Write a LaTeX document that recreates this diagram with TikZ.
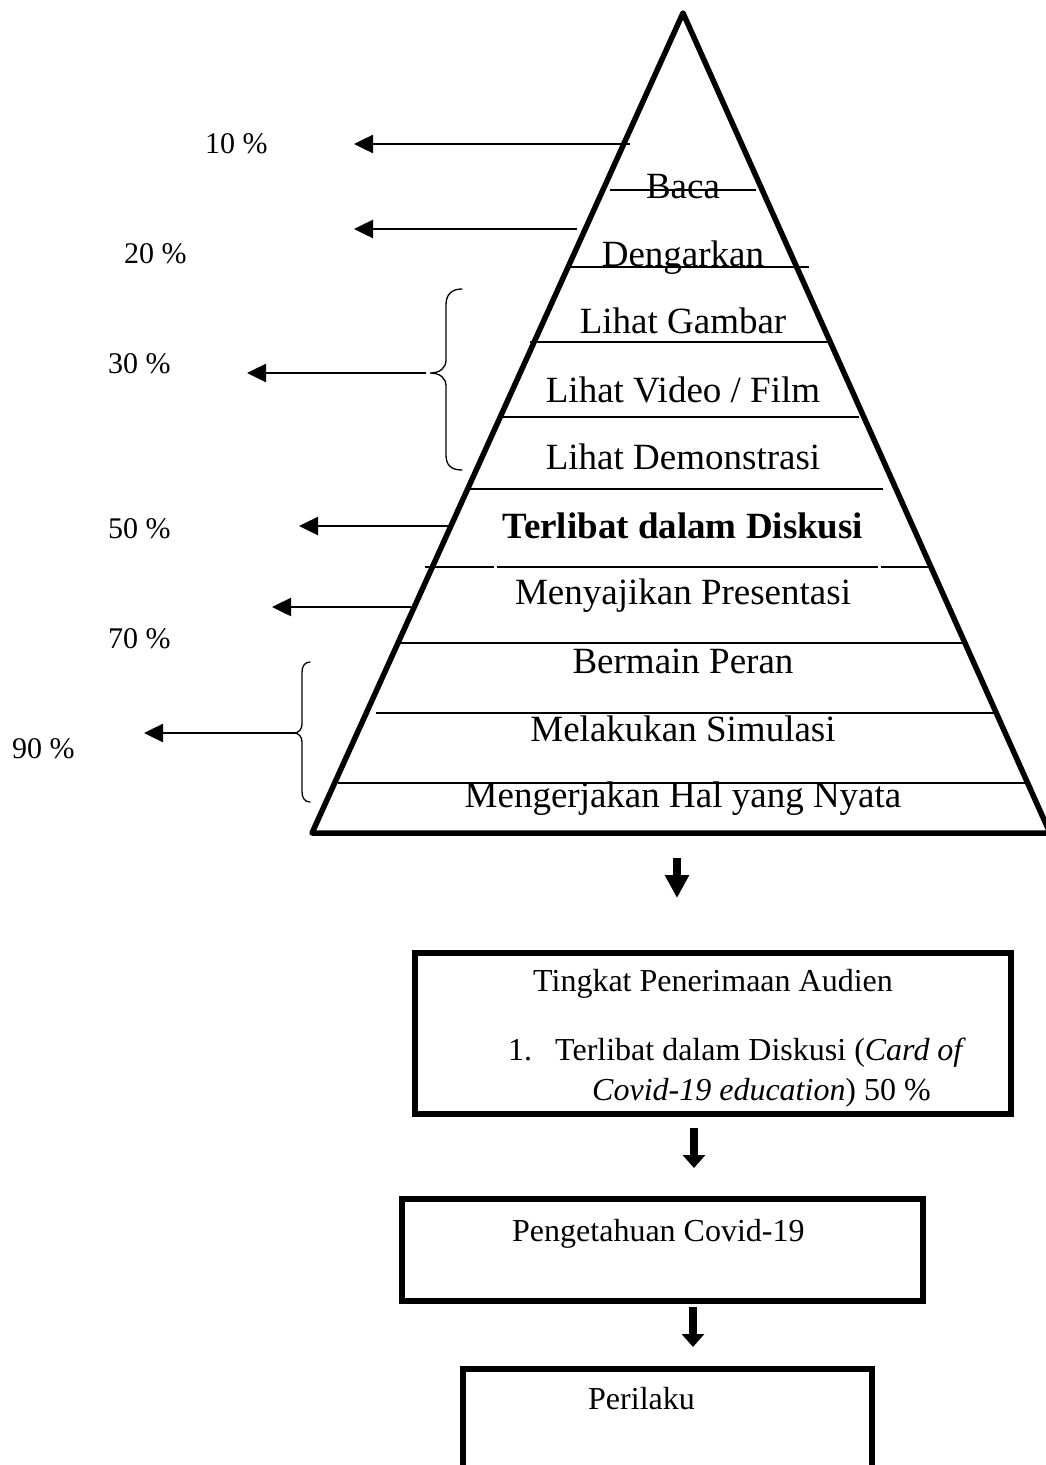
\documentclass[tikz,border=0pt]{standalone}
\usepackage{fontspec}
\setmainfont{Liberation Serif}
\usetikzlibrary{arrows.meta}
\begin{document}
\begin{tikzpicture}[x=1pt,y=-1pt,
  pyr/.style={line width=5.5pt, line join=round},
  tier/.style={line width=1.8pt},
  lvl/.style={anchor=base, inner sep=0pt, font=\fontsize{37}{44}\selectfont},
  pct/.style={anchor=base west, inner sep=0pt, font=\fontsize{30}{36}\selectfont},
  btxt/.style={anchor=base west, inner sep=0pt, font=\fontsize{32}{38}\selectfont},
  larrow/.style={line width=2.5pt, -{Triangle[width=18pt,length=19pt]}},
  darrowA/.style={line width=8pt, -{Triangle[width=23pt,length=23pt]}},
  darrowB/.style={line width=8pt, -{Triangle[width=22pt,length=13pt]}},
  bx/.style={draw, line width=6pt, inner sep=0pt, anchor=north west},
  brc/.style={line width=1.3pt, line cap=round}
]
\clip (0,0) rectangle (1046,1465);
\fill[white] (0,0) rectangle (1046,1465);

% pyramid outline
\draw[pyr] (683,13) coordinate (apex) -- (312,833) coordinate (bl) -- (1050,833) coordinate (br) -- cycle;

% tier lines
\draw[tier] (610,190) -- (756,190);
\draw[tier] (570,267) -- (809,267);
\draw[tier] (530,342) -- (831,342);
\draw[tier] (501,417) -- (859,417);
\draw[tier] (470,489) -- (883,489);
\draw[tier] (425,567) -- (494,567);
\draw[tier] (497,567) -- (878,567);
\draw[tier] (881,567) -- (928,567);
\draw[tier] (400,643) -- (964,643);
\draw[tier] (376,713) -- (997,713);
\draw[tier] (338,783) -- (1027,783);

% tier texts
\node[lvl] (t1) at (683,198) {Baca};
\node[lvl] (t2) at (683,266) {Dengarkan};
\node[lvl] (t3) at (683,333) {Lihat Gambar};
\node[lvl] (t4) at (683,402) {Lihat Video / Film};
\node[lvl] (t5) at (683,469) {Lihat Demonstrasi};
\node[lvl] (t6) at (683,538) {\bfseries Terlibat dalam Diskusi};
\node[lvl] (t7) at (683,604) {Menyajikan Presentasi};
\node[lvl] (t8) at (683,673) {Bermain Peran};
\node[lvl] (t9) at (683,741) {Melakukan Simulasi};
\node[lvl] (t10) at (683,807) {Mengerjakan Hal yang Nyata};

% percent labels
\node[pct] (p10) at (205,153) {10 \%};
\node[pct] (p20) at (124,263) {20 \%};
\node[pct] (p30) at (108,373) {30 \%};
\node[pct] (p50) at (108,538) {50 \%};
\node[pct] (p70) at (108,648) {70 \%};
\node[pct] (p90) at (12,758) {90 \%};

% left arrows
\coordinate (s10) at (630,144); \coordinate (e10) at (354,144);
\coordinate (s20) at (577,229); \coordinate (e20) at (354,229);
\coordinate (s30) at (426,373); \coordinate (e30) at (247,373);
\coordinate (s50) at (448,526); \coordinate (e50) at (299,526);
\coordinate (s70) at (411,607); \coordinate (e70) at (272,607);
\coordinate (s90) at (294,733); \coordinate (e90) at (144,733);
\draw[larrow] (s10) -- (e10);
\draw[larrow] (s20) -- (e20);
\draw[larrow] (s30) -- (e30);
\draw[larrow] (s50) -- (e50);
\draw[larrow] (s70) -- (e70);
\draw[larrow] (s90) -- (e90);

% braces
\draw[brc] (462,289) .. controls (451,289) and (446,295) .. (446,305)
  -- (446,360) .. controls (446,368) and (440,373) .. (430,373)
  .. controls (440,373) and (446,378) .. (446,386)
  -- (446,455) .. controls (446,465) and (451,470) .. (462,470);
\draw[brc] (310,662) .. controls (305,662) and (302,666) .. (302,672)
  -- (302,724) .. controls (302,729) and (299,733) .. (294,733)
  .. controls (299,733) and (302,737) .. (302,742)
  -- (302,792) .. controls (302,798) and (305,802) .. (310,802);

% boxes
\node[bx, minimum width=596pt, minimum height=161pt] (box1) at (412,950) {};
\node[bx, minimum width=521pt, minimum height=102pt] (box2) at (399,1196) {};
\node[bx, minimum width=409pt, minimum height=160pt] (box3) at (460,1366) {};

\node[btxt] (b1a) at (533,991) {Tingkat Penerimaan Audien};
\node[btxt] (b1n) at (508,1060) {1.};
\node[btxt] (b1b) at (555,1060) {Terlibat dalam Diskusi (\textit{Card of}};
\node[btxt] (b1c) at (592,1100) {\textit{Covid-19 education}) 50 \%};
\node[btxt] (b2a) at (512,1241) {Pengetahuan Covid-19};
\node[btxt] (b3a) at (588,1409) {Perilaku};

% down arrows
\coordinate (d1s) at (677,858); \coordinate (d1e) at (677,898);
\coordinate (d2s) at (694,1128); \coordinate (d2e) at (694,1168);
\coordinate (d3s) at (693,1307); \coordinate (d3e) at (693,1347);
\draw[darrowA] (d1s) -- (d1e);
\draw[darrowB] (d2s) -- (d2e);
\draw[darrowB] (d3s) -- (d3e);
\end{tikzpicture}
\end{document}
